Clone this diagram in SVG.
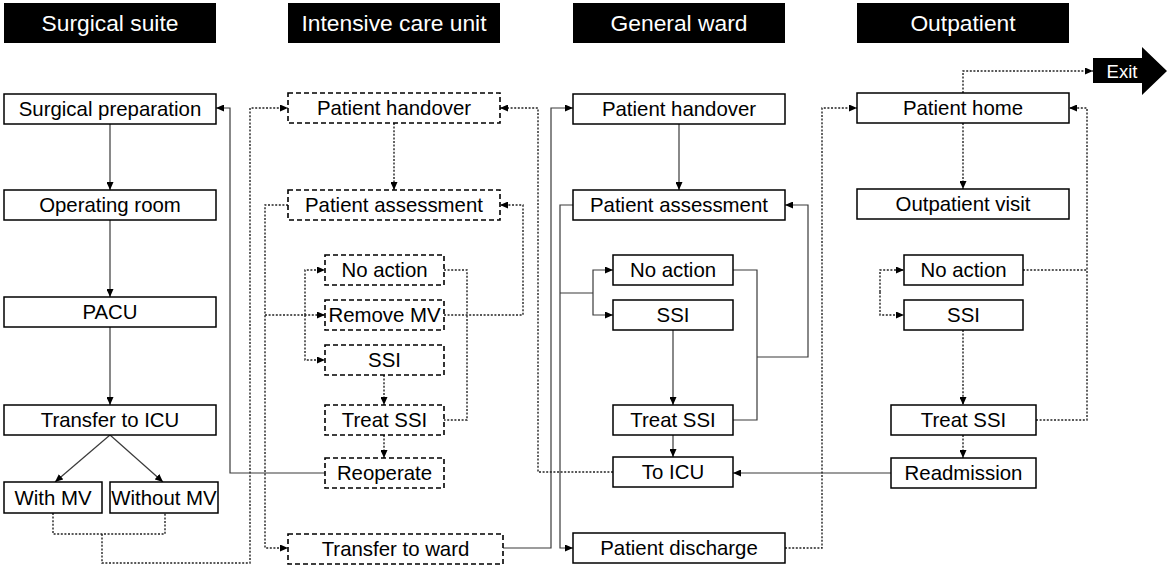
<svg xmlns="http://www.w3.org/2000/svg" width="1169" height="575" viewBox="0 0 1169 575">
<defs>
<marker id="ah" markerUnits="userSpaceOnUse" markerWidth="8" markerHeight="7" refX="8" refY="3.5" orient="auto">
<path d="M0,0 L8,3.5 L0,7 z" fill="#000" stroke="none"/>
</marker>
</defs>
<style>
text{font-family:"Liberation Sans",Arial,sans-serif;font-size:20.4px;fill:#000;text-anchor:middle}
.hd rect{fill:#000}
.hd text{fill:#fff;font-size:22.8px}
.n rect{fill:#fff;stroke:#000;stroke-width:1.5}
.dn rect{fill:#fff;stroke:#000;stroke-width:1.6;stroke-dasharray:5,3}
.s{fill:none;stroke:#3a3a3a;stroke-width:1.2}
.d{fill:none;stroke:#222;stroke-width:1.4;stroke-dasharray:2,1.6}
.a{marker-end:url(#ah)}
</style>
<rect width="1169" height="575" fill="#fff"/>

<g id="headers" class="hd">
<g id="h-surgical"><rect x="4" y="3" width="212" height="40"/><text x="110" y="31">Surgical suite</text></g>
<g id="h-icu"><rect x="288" y="3" width="212" height="40"/><text x="394" y="31">Intensive care unit</text></g>
<g id="h-ward"><rect x="573" y="3" width="212" height="40"/><text x="679" y="31">General ward</text></g>
<g id="h-out"><rect x="857" y="3" width="212" height="40"/><text x="963" y="31">Outpatient</text></g>
</g>

<g id="connectors">
<path class="s a" d="M110,124 V190"/>
<path class="s a" d="M110,220 V297"/>
<path class="s a" d="M110,327 V405"/>
<path class="s a" d="M110,435 L55,482"/>
<path class="s a" d="M110,435 L163,482"/>
<path class="s a" d="M325,473 H230 V108 H216"/>
<path class="s a" d="M503,548 H551 V108 H573"/>
<path class="s a" d="M679,124 V190"/>
<path class="s a" d="M573,205 H560 V548 H573"/>
<path class="s" d="M560,293 H593"/>
<path class="s a" d="M593,293 V270 H613"/>
<path class="s a" d="M593,293 V315 H613"/>
<path class="s a" d="M673,330 V405"/>
<path class="s a" d="M673,435 V457"/>
<path class="s" d="M733,270 H757 V420 H733"/>
<path class="s a" d="M757,357 H808 V205 H785"/>
<path class="s a" d="M891,473 H733"/>

<path class="d" d="M53,513 V534 H165 V513"/>
<path class="d a" d="M102,534 V563 H250 V108 H288"/>
<path class="d a" d="M394,123 V190"/>
<path class="d a" d="M288,205 H265 V548 H288"/>
<path class="d a" d="M265,315 H325"/>
<path class="d a" d="M305,315 V270 H325"/>
<path class="d a" d="M305,315 V360 H325"/>
<path class="d a" d="M384,375 V405"/>
<path class="d a" d="M384,435 V458"/>
<path class="d" d="M444,270 H467 V420 H444"/>
<path class="d a" d="M444,315 H523 V205 H500"/>
<path class="d a" d="M613,472 H538 V108 H500"/>
<path class="d a" d="M785,548 H822 V108 H857"/>
<path class="d a" d="M963,93 V71 H1093"/>
<path class="d a" d="M963,123 V189"/>
<path class="d a" d="M880,292 V270 H904"/>
<path class="d a" d="M880,292 V315 H904"/>
<path class="d a" d="M963,330 V405"/>
<path class="d a" d="M963,435 V458"/>
<path class="d" d="M1023,270 H1087"/>
<path class="d a" d="M1036,420 H1087 V108 H1069"/>
</g>

<g id="surgical-preparation" class="n"><rect x="4" y="94" width="212" height="30"/><text x="110" y="116">Surgical preparation</text></g>
<g id="operating-room" class="n"><rect x="4" y="190" width="212" height="30"/><text x="110" y="212">Operating room</text></g>
<g id="pacu" class="n"><rect x="4" y="297" width="212" height="30"/><text x="110" y="319">PACU</text></g>
<g id="transfer-icu" class="n"><rect x="4" y="405" width="212" height="30"/><text x="110" y="427">Transfer to ICU</text></g>
<g id="with-mv" class="n"><rect x="4" y="482" width="98" height="31"/><text x="53" y="505">With MV</text></g>
<g id="without-mv" class="n"><rect x="110" y="482" width="108" height="31"/><text x="164" y="505">Without MV</text></g>

<g id="icu-handover" class="dn"><rect x="288" y="93" width="212" height="30"/><text x="394" y="115">Patient handover</text></g>
<g id="icu-assessment" class="dn"><rect x="288" y="190" width="212" height="30"/><text x="394" y="212">Patient assessment</text></g>
<g id="icu-no-action" class="dn"><rect x="325" y="255" width="119" height="30"/><text x="384.5" y="277">No action</text></g>
<g id="icu-remove-mv" class="dn"><rect x="325" y="300" width="119" height="30"/><text x="384.5" y="322">Remove MV</text></g>
<g id="icu-ssi" class="dn"><rect x="325" y="345" width="119" height="30"/><text x="384.5" y="367">SSI</text></g>
<g id="icu-treat-ssi" class="dn"><rect x="325" y="405" width="119" height="30"/><text x="384.5" y="427">Treat SSI</text></g>
<g id="icu-reoperate" class="dn"><rect x="325" y="458" width="119" height="30"/><text x="384.5" y="480">Reoperate</text></g>
<g id="icu-transfer-ward" class="dn"><rect x="288" y="534" width="215" height="30"/><text x="395.5" y="556">Transfer to ward</text></g>

<g id="ward-handover" class="n"><rect x="573" y="94" width="212" height="30"/><text x="679" y="116">Patient handover</text></g>
<g id="ward-assessment" class="n"><rect x="573" y="190" width="212" height="30"/><text x="679" y="212">Patient assessment</text></g>
<g id="ward-no-action" class="n"><rect x="613" y="255" width="120" height="30"/><text x="673" y="277">No action</text></g>
<g id="ward-ssi" class="n"><rect x="613" y="300" width="120" height="30"/><text x="673" y="322">SSI</text></g>
<g id="ward-treat-ssi" class="n"><rect x="613" y="405" width="120" height="30"/><text x="673" y="427">Treat SSI</text></g>
<g id="ward-to-icu" class="n"><rect x="613" y="457" width="120" height="30"/><text x="673" y="479">To ICU</text></g>
<g id="ward-discharge" class="n"><rect x="573" y="533" width="212" height="30"/><text x="679" y="555">Patient discharge</text></g>

<g id="out-home" class="n"><rect x="857" y="93" width="212" height="30"/><text x="963" y="115">Patient home</text></g>
<g id="out-visit" class="n"><rect x="857" y="189" width="212" height="30"/><text x="963" y="211">Outpatient visit</text></g>
<g id="out-no-action" class="n"><rect x="904" y="255" width="119" height="30"/><text x="963.5" y="277">No action</text></g>
<g id="out-ssi" class="n"><rect x="904" y="300" width="119" height="30"/><text x="963.5" y="322">SSI</text></g>
<g id="out-treat-ssi" class="n"><rect x="891" y="405" width="145" height="30"/><text x="963.5" y="427">Treat SSI</text></g>
<g id="out-readmission" class="n"><rect x="891" y="458" width="145" height="30"/><text x="963.5" y="480">Readmission</text></g>

<g id="exit">
<path d="M1093,58 H1142 V47 L1167,71 L1142,95 V83 H1093 Z" fill="#000"/>
<text x="1122" y="78" style="fill:#fff;font-size:18.5px">Exit</text>
</g>
</svg>
